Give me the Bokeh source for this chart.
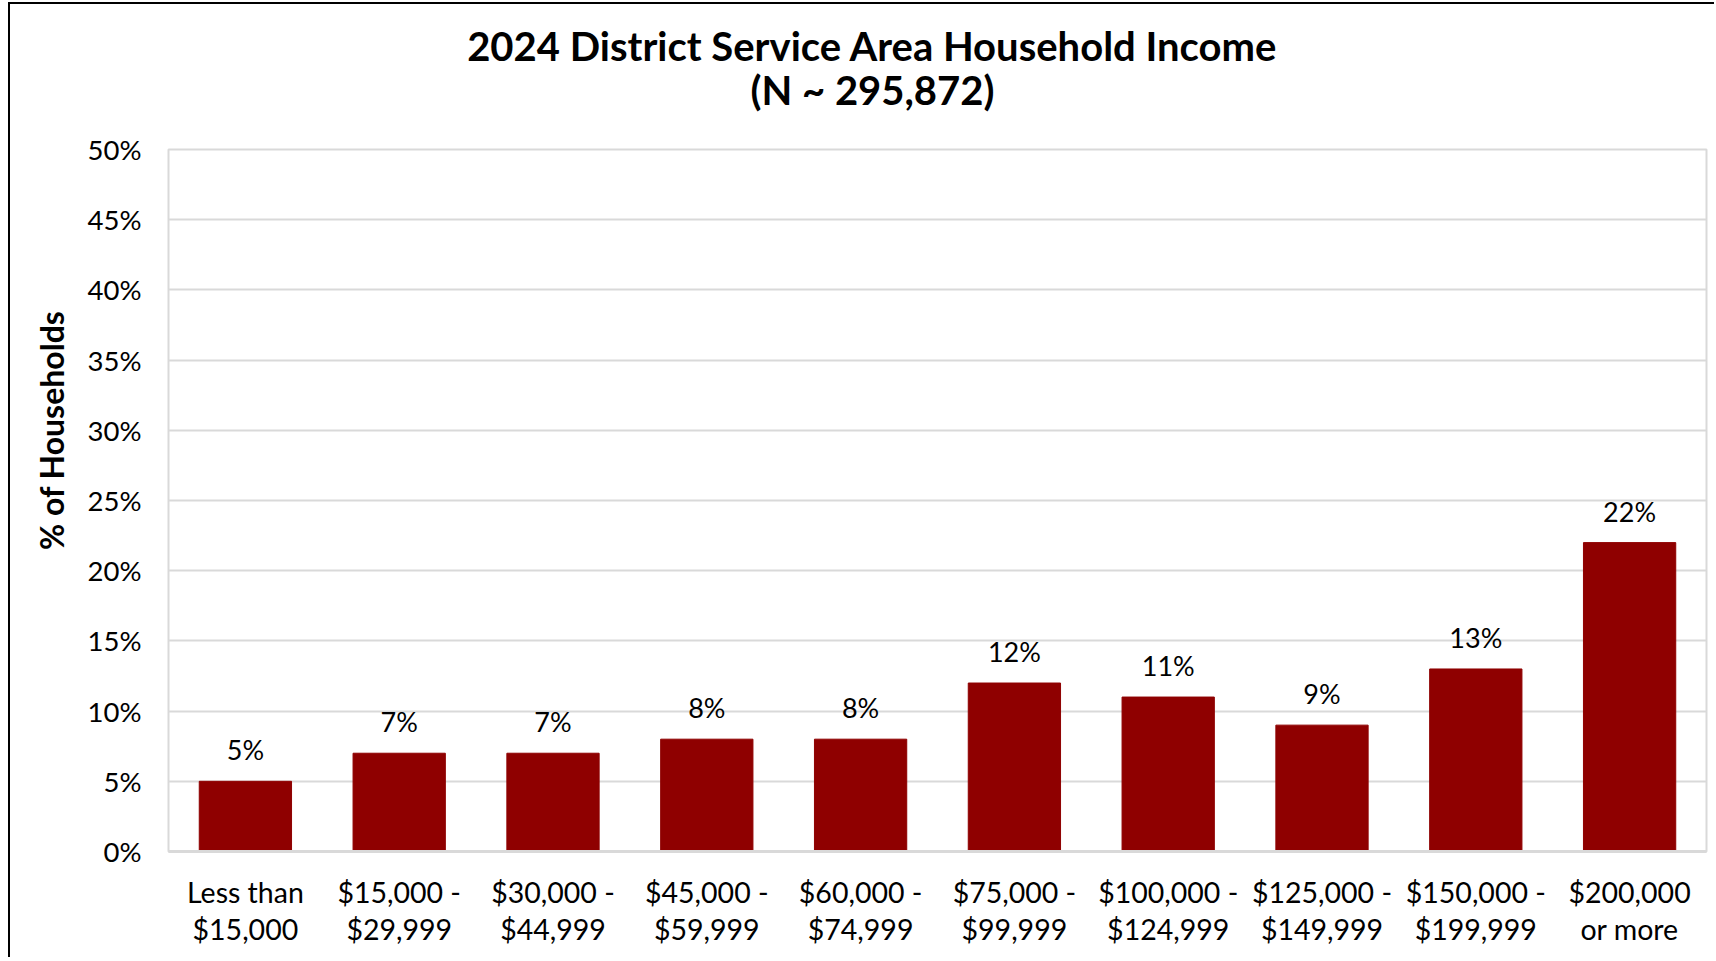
import math
from bokeh.plotting import figure
from bokeh.models import Label, FactorRange, Range1d, FixedTicker, ColumnDataSource
from bokeh.embed import file_html
from bokeh.resources import INLINE
from bokeh.core.properties import value

categories = ["Less than\n$15,000", "$15,000 -\n$29,999", "$30,000 -\n$44,999",
              "$45,000 -\n$59,999", "$60,000 -\n$74,999", "$75,000 -\n$99,999",
              "$100,000 -\n$124,999", "$125,000 -\n$149,999", "$150,000 -\n$199,999",
              "$200,000\nor more"]
percents = [5, 7, 7, 8, 8, 12, 11, 9, 13, 22]
y_ticks = [0, 5, 10, 15, 20, 25, 30, 35, 40, 45, 50]
y_tick_labels = [f"{t}%" for t in y_ticks]
title_line1 = "2024 District Service Area Household Income"
title_line2 = "(N ~ 295,872)"
y_title = "% of Households"

FONT = "Lato"
BAR = "#8f0000"
GRID = "#d9d9d9"

src = ColumnDataSource(dict(cat=categories, pct=percents,
                            lbl=[f"{v}%" for v in percents]))

p = figure(x_range=FactorRange(factors=categories, range_padding=0, factor_padding=0),
           y_range=Range1d(0, 50),
           width=1706, height=955, output_backend="svg", toolbar_location=None,
           min_border_left=158, min_border_right=10, min_border_top=145,
           min_border_bottom=108)
p.background_fill_color = "white"
p.border_fill_color = "white"
p.outline_line_color = GRID
p.outline_line_width = 2

p.vbar(x="cat", top="pct", width=0.6, color=BAR, source=src)
p.text(x="cat", y="pct", text="lbl", source=src, y_offset=-15,
       text_align="center", text_baseline="bottom",
       text_font=value(FONT), text_font_size="27px", text_color="black")

p.xgrid.grid_line_color = None
p.ygrid.grid_line_color = GRID
p.ygrid.grid_line_width = 2

xa = p.xaxis[0]
xa.major_tick_line_color = None
xa.minor_tick_line_color = None
xa.axis_line_color = GRID
xa.axis_line_width = 3
xa.major_label_text_font = FONT
xa.major_label_text_font_size = "28.5px"
xa.major_label_text_color = "black"
xa.major_label_standoff = 17
xa.major_label_text_line_height = 1.1

ya = p.yaxis[0]
ya.ticker = FixedTicker(ticks=y_ticks)
ya.major_label_overrides = {t: l for t, l in zip(y_ticks, y_tick_labels)}
ya.axis_line_color = None
ya.major_tick_line_color = None
ya.minor_tick_line_color = None
ya.major_label_text_font = FONT
ya.major_label_text_font_size = "27.5px"
ya.major_label_text_color = "black"
ya.major_label_standoff = 21

p.add_layout(Label(x=4.577, y=57.4, text=title_line1, text_align="center",
                   text_baseline="middle", text_font=FONT, text_font_style="bold",
                   text_font_size="40px", text_color="black"), "above")
p.add_layout(Label(x=4.577, y=54.25, text=title_line2, text_align="center",
                   text_baseline="middle", text_font=FONT, text_font_style="bold",
                   text_font_size="40px", text_color="black"), "above")
p.add_layout(Label(x=-0.761, y=30, text=y_title, angle=math.pi / 2,
                   text_align="center", text_baseline="middle", text_font=FONT,
                   text_font_style="bold", text_font_size="32px", text_color="black"),
             "left")

p.styles = {"border-left": "2px solid black", "border-top": "2px solid black",
            "margin-left": "8px", "margin-top": "2px"}

open("out.html", "w").write(file_html(p, INLINE))
